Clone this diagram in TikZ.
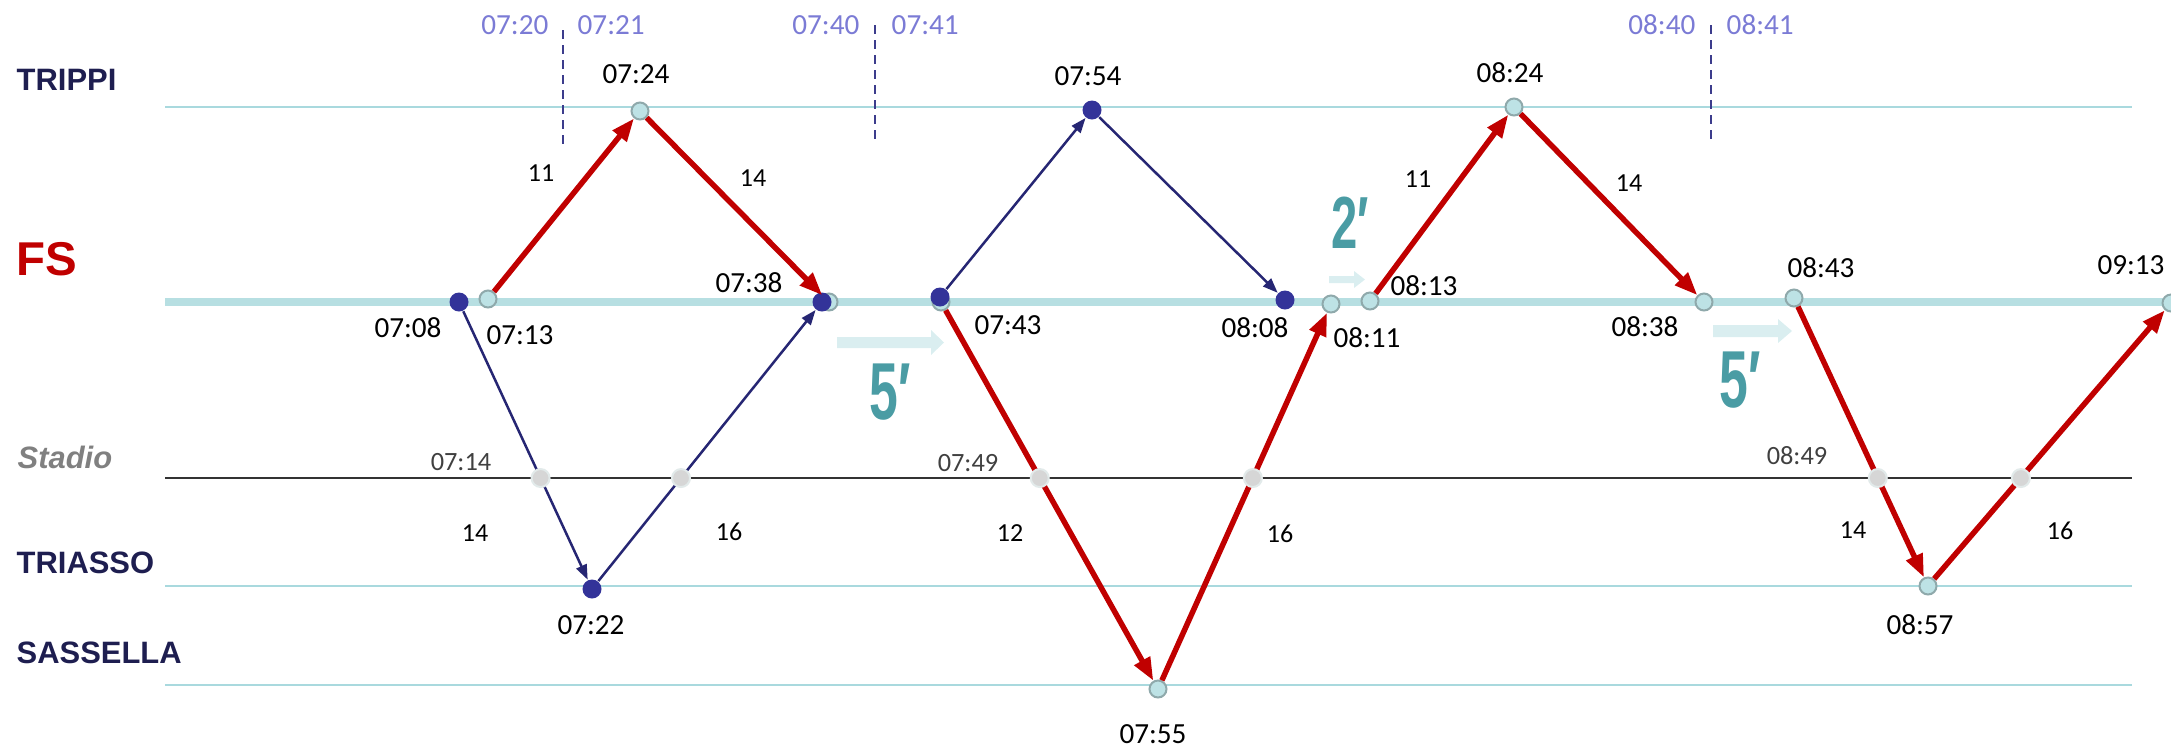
\documentclass[tikz,border=0pt]{standalone}
\usepackage{fontspec}
\setmainfont{Carlito}
\newfontfamily\stationfont{Liberation Sans}
\usepackage{graphicx}
\usepackage{tikz}
\usetikzlibrary{positioning, arrows.meta}

\definecolor{navy}{HTML}{1E1E50}
\definecolor{fsred}{HTML}{C00000}
\definecolor{lilac}{HTML}{7B7BD5}
\definecolor{waitteal}{HTML}{4A9CA4}
\definecolor{waitfill}{HTML}{DAEEF0}
\definecolor{dotblue}{HTML}{333399}
\definecolor{runblue}{HTML}{262673}
\definecolor{ringfill}{HTML}{BDE2E5}
\definecolor{ringline}{HTML}{8FA9AB}
\definecolor{grayfill}{HTML}{D6D6D6}
\definecolor{grayline}{HTML}{E2EAEA}
\definecolor{fsline}{HTML}{B7DFE2}
\definecolor{railline}{HTML}{A9D9DE}
\definecolor{marker}{HTML}{3C3C8C}

\tikzset{
  station/.style={font=\stationfont\bfseries\fontsize{8.8}{10}\selectfont,
                  text=navy, anchor=west, inner sep=0pt},
  timelbl/.style={font=\fontsize{8.3}{10}\selectfont, inner sep=0pt},
  toplbl/.style={timelbl, text=lilac},
  stadiolbl/.style={font=\fontsize{7.5}{9}\selectfont, text=black!75, inner sep=0pt},
  minlbl/.style={font=\fontsize{7.4}{9}\selectfont, inner sep=0pt},
  busdot/.style={circle, fill=dotblue, inner sep=0pt, minimum size=1.9mm},
  stopring/.style={circle, fill=ringfill, draw=ringline, line width=0.2mm,
                   inner sep=0pt, minimum size=1.7mm},
  stadiodot/.style={circle, fill=grayfill, draw=grayline, line width=0.2mm,
                    inner sep=0pt, minimum size=1.8mm},
  bluerun/.style={draw=runblue, line width=0.25mm,
                  -{Triangle[length=1.5mm, width=1.1mm]}},
  redrun/.style={draw=fsred, line width=0.55mm,
                 -{Triangle[length=2.3mm, width=1.7mm]}},
  thinrail/.style={draw=railline, line width=0.15mm},
  waitlbl/.style={text=waitteal, inner sep=0pt,
                  font=\stationfont\bfseries\fontsize{23}{24}\selectfont},
}

\begin{document}
\begin{tikzpicture}[x=0.1mm, y=-0.1mm]
  \useasboundingbox (0,0) rectangle (2171,749);

  %% ── Station lines ──────────────────────────────────────────
  \def\xL{165}    % lines start
  \def\xR{2132}   % lines end
  \draw[thinrail] (\xL,107) -- (\xR,107);
  \draw[fsline, line width=0.8mm] (\xL,302) -- (2171,302);
  \draw[black!80, line width=0.15mm] (\xL,478) coordinate (stW) -- (\xR,478) coordinate (stE);
  \draw[thinrail] (\xL,586) -- (\xR,586);
  \draw[thinrail] (\xL,685) -- (\xR,685);

  %% ── Station names ──────────────────────────────────────────
  \node[station] (nTrippi) at (16,80) {TRIPPI};
  \node[station, text=fsred,
        font=\stationfont\bfseries\fontsize{13.5}{15}\selectfont] (nFS) at (16,259) {FS};
  \node[station, text=black!50,
        font=\stationfont\bfseries\itshape\fontsize{8.8}{10}\selectfont] (nStadio) at (17,457) {Stadio};
  \node[station] (nTriasso) at (16,563) {TRIASSO};
  \node[station] (nSassella) at (16,653) {SASSELLA};

  %% ── Dashed markers ─────────────────────────────────────────
  \draw[marker, line width=0.15mm, dash pattern=on 0.9mm off 0.6mm] (563,30) -- (563,145);
  \node[toplbl, anchor=east] (l0720) at (549,25) {07:20};
  \node[toplbl, anchor=west] (l0721) at (577,25) {07:21};
  \draw[marker, line width=0.15mm, dash pattern=on 0.9mm off 0.6mm] (875,25) -- (875,140);
  \node[toplbl, anchor=east] (l0740) at (860,25) {07:40};
  \node[toplbl, anchor=west] (l0741) at (891,25) {07:41};
  \draw[marker, line width=0.15mm, dash pattern=on 0.9mm off 0.6mm] (1711,25) -- (1711,142);
  \node[toplbl, anchor=east] (l0840) at (1696,25) {08:40};
  \node[toplbl, anchor=west] (l0841) at (1726,25) {08:41};

  %% ── Waiting arrows ─────────────────────────────────────────
  \fill[waitfill] (837,337) -- (931,337) -- (931,330) -- (944,342.5)
    -- (931,355) -- (931,348) -- (837,348) -- cycle;
  \fill[waitfill] (1713,325) -- (1778,325) -- (1778,319) -- (1792,331)
    -- (1778,343) -- (1778,337) -- (1713,337) -- cycle;
  \fill[waitfill] (1329,276) -- (1354,276) -- (1354,271) -- (1365,279.5)
    -- (1354,288) -- (1354,283) -- (1329,283) -- cycle;
  \node[waitlbl] (w1) at (890,392) {\scalebox{0.64}[1]{5′}};
  \node[waitlbl] (w2) at (1740,380) {\scalebox{0.64}[1]{5′}};
  \node[waitlbl, font=\stationfont\bfseries\fontsize{21}{22}\selectfont] (w3) at (1350,223) {\scalebox{0.64}[1]{2′}};

  %% ── Stops ──────────────────────────────────────────────────
  % blue run
  \node[busdot] (d0708) at (459,302) {};
  \node[busdot] (d0722) at (592,589) {};
  \node[stopring] (c0738) at (829,302) {};
  \node[busdot] (d0738) at (822,302) {};
  \node[stopring] (c0743) at (941,302) {};
  \node[busdot] (d0743) at (940,297) {};
  \node[busdot] (d0754) at (1092,110) {};
  \node[busdot] (d0808) at (1285,300) {};
  % red run
  \node[stopring] (c0713) at (488,299) {};
  \node[stopring] (c0724) at (640,111) {};
  \node[stopring] (c0755) at (1158,689) {};
  \node[stopring] (c0811) at (1331,304) {};
  \node[stopring] (c0813) at (1370,301) {};
  \node[stopring] (c0824) at (1514,107) {};
  \node[stopring] (c0838) at (1704,302) {};
  \node[stopring] (c0843) at (1794,298) {};
  \node[stopring] (c0857) at (1928,586) {};
  \node[stopring] (c0913) at (2171,303) {};

  %% ── Runs ───────────────────────────────────────────────────
  \draw[bluerun] (d0708) -- (d0722);
  \draw[bluerun] (d0722) -- (d0738);
  \draw[bluerun] (d0743) -- (d0754);
  \draw[bluerun] (d0754) -- (d0808);
  \draw[redrun] (c0713) -- (c0724);
  \draw[redrun] (c0724) -- (c0738);
  \draw[redrun] (c0743) -- (c0755);
  \draw[redrun] (c0755) -- (c0811);
  \draw[redrun] (c0813) -- (c0824);
  \draw[redrun] (c0824) -- (c0838);
  \draw[redrun] (c0843) -- (c0857);
  \draw[redrun] (c0857) -- (c0913);

  %% ── Stadio crossings ───────────────────────────────────────
  \node[stadiodot] (s1) at (intersection of d0708--d0722 and stW--stE) {};
  \node[stadiodot] (s2) at (intersection of d0722--d0738 and stW--stE) {};
  \node[stadiodot] (s3) at (intersection of c0743--c0755 and stW--stE) {};
  \node[stadiodot] (s4) at (intersection of c0755--c0811 and stW--stE) {};
  \node[stadiodot] (s5) at (intersection of c0843--c0857 and stW--stE) {};
  \node[stadiodot] (s6) at (intersection of c0857--c0913 and stW--stE) {};
  \node[stadiolbl] (l0714) at (461,462) {07:14};
  \node[stadiolbl] (l0749) at (968,463) {07:49};
  \node[stadiolbl] (l0849) at (1797,456) {08:49};

  %% ── Times ──────────────────────────────────────────────────
  \node[timelbl] (l0708) at (408,328) {07:08};
  \node[timelbl] (l0713) at (520,335) {07:13};
  \node[timelbl] (l0724) at (636,74) {07:24};
  \node[timelbl] (l0738) at (749,283) {07:38};
  \node[timelbl] (l0722) at (591,625) {07:22};
  \node[timelbl] (l0743) at (1008,325) {07:43};
  \node[timelbl] (l0754) at (1088,76) {07:54};
  \node[timelbl] (l0808) at (1255,328) {08:08};
  \node[timelbl] (l0811) at (1367,338) {08:11};
  \node[timelbl] (l0813) at (1424,286) {08:13};
  \node[timelbl] (l0824) at (1510,73) {08:24};
  \node[timelbl] (l0838) at (1645,327) {08:38};
  \node[timelbl] (l0843) at (1821,268) {08:43};
  \node[timelbl] (l0913) at (2131,265) {09:13};
  \node[timelbl] (l0755) at (1153,734) {07:55};
  \node[timelbl] (l0857) at (1920,625) {08:57};

  %% ── Minutes per leg ────────────────────────────────────────
  \node[minlbl] (m1) at (541,173) {11};
  \node[minlbl] (m2) at (753,178) {14};
  \node[minlbl] (m3) at (1418,179) {11};
  \node[minlbl] (m4) at (1629,183) {14};
  \node[minlbl] (m5) at (475,533) {14};
  \node[minlbl] (m6) at (729,532) {16};
  \node[minlbl] (m7) at (1010,533) {12};
  \node[minlbl] (m8) at (1280,534) {16};
  \node[minlbl] (m9) at (1853,530) {14};
  \node[minlbl] (m10) at (2060,531) {16};

\end{tikzpicture}
\end{document}
